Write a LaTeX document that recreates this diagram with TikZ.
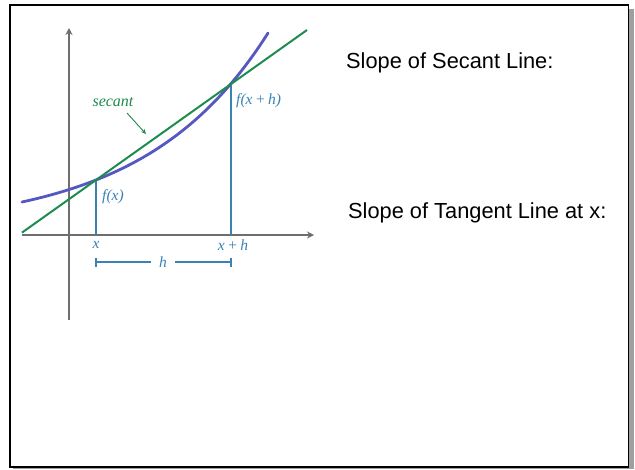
\documentclass[tikz,border=0pt]{standalone}
\usepackage{fontspec}
\newfontfamily\arialfont{Liberation Sans}
\newfontfamily\lblfont{Liberation Serif}
\usetikzlibrary{arrows.meta}
\definecolor{curveblue}{HTML}{5558C0}
\definecolor{secgreen}{HTML}{1E8C4E}
\definecolor{steel}{HTML}{3A82B4}
\definecolor{axisgrey}{HTML}{6E6E6E}
\tikzset{
  axisline/.style={draw=axisgrey,line width=1.4pt,-{Stealth[length=7pt,width=7pt]}},
  guide/.style={draw=steel,line width=1.2pt},
  lbl/.style={text=steel,font=\lblfont\itshape\fontsize{15.5}{18}\selectfont,inner sep=1pt},
  bigtext/.style={font=\arialfont\fontsize{21.8}{26}\selectfont,inner sep=0pt,anchor=base west}
}
\begin{document}
\begin{tikzpicture}[x=1pt,y=-1pt]
\useasboundingbox (0,0) rectangle (635,469);
% frame with shadow
\fill[gray!75] (13,9) rectangle (633.5,469);
\draw[fill=white,line width=1.6pt] (9.8,4.8) rectangle (628.5,466.8);
% axes
\coordinate (yb) at (69,320);
\coordinate (yt) at (69,28);
\coordinate (xl) at (22,235);
\coordinate (xr) at (314,235);
\draw[axisline] (yb) -- (yt);
\draw[axisline] (xl) -- (xr);
% points
\coordinate (A) at (96,180);
\coordinate (B) at (231,84);
\coordinate (Ax) at (96,235);
\coordinate (Bx) at (231,235);
% guides
\draw[guide] (A) -- (Ax);
\draw[guide] (B) -- (Bx);
% curve
\draw[curveblue,line width=2.8pt,line cap=round] plot[domain=22:268,samples=80,smooth] (\x,{229-27*exp(0.00805*(\x-22))});
% secant
\coordinate (S1) at (22,232.6);
\coordinate (S2) at (307,30);
\draw[secgreen,line width=2pt] (S1) -- (S2);
% labels
\node[lbl,anchor=west] (fx) at (101,197) {f(x)};
\node[lbl,anchor=west] (fxh) at (235,101) {f(x\,+\,h)};
\node[lbl] (xl1) at (96,245) {x};
\node[lbl] (xl2) at (233,245) {x\,+\,h};
% h bracket
\coordinate (h1) at (96,262);
\coordinate (h2) at (231,262);
\node[lbl,inner xsep=8pt] (hl) at (163,262) {h};
\draw[guide] (h1) -- (h1 -| hl.west);
\draw[guide] (h2 -| hl.east) -- (h2);
\draw[steel,line width=2pt] (96,257.5) -- (96,266.5);
\draw[steel,line width=2pt] (231,257.5) -- (231,266.5);
% secant label
\node[text=secgreen,font=\lblfont\itshape\fontsize{16}{19}\selectfont,inner sep=1pt] (sec) at (113,102) {secant};
\coordinate (sa1) at (127,113);
\coordinate (sa2) at (146,134);
\draw[secgreen,line width=0.9pt,-{Stealth[length=5pt,width=4.5pt]}] (sa1) -- (sa2);
% text
\node[bigtext] (t1) at (346,68) {Slope of Secant Line:};
\node[bigtext] (t2) at (348,218) {Slope of Tangent Line at x:};
\end{tikzpicture}
\end{document}
